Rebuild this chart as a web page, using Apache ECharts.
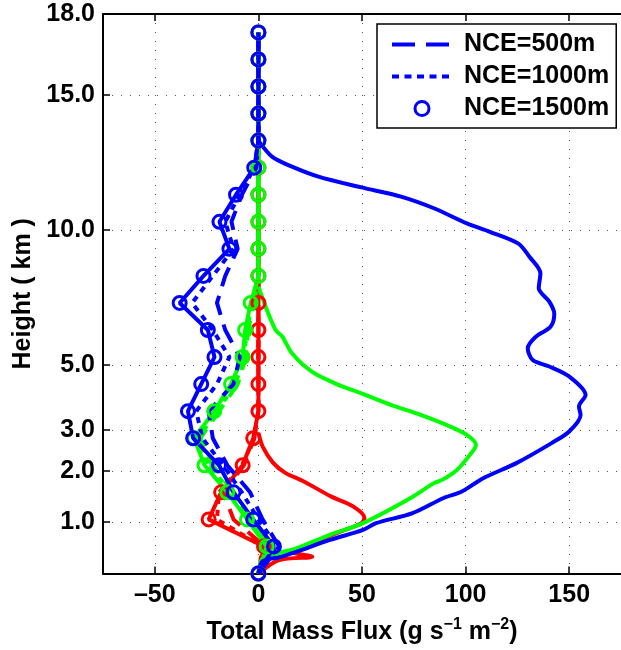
<!DOCTYPE html>
<html><head><meta charset="utf-8">
<script src="https://cdn.jsdelivr.net/npm/echarts@6/dist/echarts.min.js"></script>
<style>html,body{margin:0;padding:0;background:#fff}#c{width:621px;height:650px}</style>
</head><body><div id="c"></div>
<script>
// y axis is in model-level units; tick labels give the height (km)
const levels = [0,1,2,3,4,5,6,7,8,9,10,11,12,13,14,15,16,17,18,19,20];
const yTickPos = [1.90, 3.79, 5.30, 7.71, 12.70, 17.69, 20.68];
const yTickLabels = ['1.0','2.0','3.0','5.0','10.0','15.0','18.0'];
const xTicks = [-50, 0, 50, 100, 150];

// negative (downward) branches, one value per model level
const blue500  = [0, 10, 2, -4, -15, -22, -24, -12, -9, -16, -20, -16, -10, -13, -8, -1, 0, 0, 0, 0, 0];
const blue1000 = [0, 9, 0, -8, -17, -27, -30, -20, -14, -22, -32, -22, -12, -16, -9, -2, 0, 0, 0, 0, 0];
const blue1500 = [0, 7.5, -2.5, -12, -19, -31.5, -34, -27.6, -21.2, -24.4, -38, -26.5, -14, -18.8, -10.8, -2, 0, 0, 0, 0, 0];
const green500  = [0, 6, -3, -12, -22, -28, -19, -10, -6, -5, -2, 0, 0, 0, 0, 0, 0, 0, 0, 0, 0];
const green1000 = [0, 5, -4, -13, -24, -29, -20, -11, -7, -5.5, -3, 0, 0, 0, 0, 0, 0, 0, 0, 0, 0];
const green1500 = [0, 4, -5.5, -15, -26, -31, -21.3, -13.2, -7.6, -6.4, -3.7, 0, 0, 0, 0, 0, 0, 0, 0, 0, 0];
const red500  = [0, 3, -12, -17, -7, -2, 0, 0, 0, 0, 0, 0, 0, 0, 0, 0, 0, 0, 0, 0, 0];
const red1000 = [0, 2, -20, -19, -8, -2, 0, 0, 0, 0, 0, 0, 0, 0, 0, 0, 0, 0, 0, 0, 0];
const red1500 = [0, 2.7, -24, -18, -7.6, -2.5, 0, 0, 0, 0, 0, 0, 0, 0, 0, 0, 0, 0, 0, 0, 0];

// positive (upward) branches
const bluePosLevel = [16.0, 15.4, 15.04, 14.67, 14.27, 13.93, 13.5, 12.94, 12.63, 12.2, 11.71, 11.1, 10.54, 10.05, 9.6, 9.12, 8.76, 8.33, 7.89, 7.65, 7.28, 6.6, 6.17, 5.86, 5.25, 4.82, 4.08, 3.52, 3.03, 2.79, 2.23, 1.86, 1.61, 1.24, 0.81, 0.69, 0.6, 0.45, 0];
const bluePosFlux  = [0, 6.7, 16.2, 29, 49.7, 68.8, 84.7, 100.6, 111.7, 125.3, 130.8, 136.1, 135.3, 140.4, 142.8, 141, 134, 130, 132.4, 140.4, 150, 157.9, 154.7, 155.5, 150, 141.5, 124.5, 108.5, 98.2, 89.4, 74.4, 56.8, 50.5, 34.5, 18.6, 13.8, 10, 2, 0];
const greenPosLevel = [10.6, 9.86, 9.0, 8.76, 8.14, 7.46, 7.03, 6.66, 6.23, 5.86, 5.43, 5.12, 4.75, 4.32, 3.83, 3.46, 3.34, 2.79, 1.86, 1.43, 0.94, 0.72, 0.55, 0];
const greenPosFlux  = [0, 3.5, 8.3, 11.5, 16.2, 25.8, 36.9, 49.7, 64, 78.3, 92.6, 100.6, 105, 101.4, 95.8, 88.7, 84.7, 73.5, 50.5, 34.5, 18.6, 8, 2, 0];
const redPosLevel = [5.2, 4.7, 4.1, 3.72, 3.42, 2.85, 2.48, 2.05, 1.86, 1.49, 1.0, 0.8, 0.62, 0.5, 0];
const redPosFlux  = [0, 2, 7, 13, 21.5, 35, 45.7, 51.2, 49.7, 37.7, 21.8, 16, 26, 10, 0];

const FONT = '"Liberation Sans", Arial, Helvetica, sans-serif';
const BLUE = '#0000ff', GREEN = '#00ff00', RED = '#ff0000';
const DASH = [20, 10], DOT = [6, 6];

function pts(xs, ys) { return xs.map((x, i) => [x, ys[i]]); }
function posS(name, color, xs, ys) {
  return { name, type: 'line', data: pts(xs, ys), symbol: 'none', silent: true, smooth: 0.3,
    itemStyle: { color }, lineStyle: { color, width: 4 } };
}
function lineS(name, color, xs, type) {
  return { name, type: 'line', data: pts(xs, levels), symbol: 'none', silent: true,
    itemStyle: { color }, lineStyle: { color, width: 4, type } };
}
function circS(name, color, xs) {
  return { name, type: 'line', data: pts(xs, levels), symbol: 'circle', symbolSize: 13,
    showAllSymbol: true, silent: true,
    itemStyle: { color: 'rgba(0,0,0,0)', borderColor: color, borderWidth: 3 },
    lineStyle: { color, width: 4 } };
}

const series = [
  posS('redPos', RED, redPosFlux, redPosLevel),
  lineS('red500', RED, red500, DASH),
  lineS('red1000', RED, red1000, DOT),
  circS('red1500', RED, red1500),
  posS('greenPos', GREEN, greenPosFlux, greenPosLevel),
  lineS('green500', GREEN, green500, DASH),
  lineS('green1000', GREEN, green1000, DOT),
  circS('green1500', GREEN, green1500),
  posS('bluePos', BLUE, bluePosFlux, bluePosLevel),
  lineS('NCE=500m', BLUE, blue500, DASH),
  lineS('NCE=1000m', BLUE, blue1000, DOT),
  circS('NCE=1500m', BLUE, blue1500)
];

const labelStyle = { fontSize: 25, fontWeight: 'bold', color: '#000', fontFamily: FONT };
const gridLine = { show: true, lineStyle: { color: '#555', width: 1, type: [1, 8] } };
const hiddenSym = { color: 'rgba(0,0,0,0)', borderWidth: 0, opacity: 0 };

const chart = echarts.init(document.getElementById('c'), null, { renderer: 'canvas' });
chart.setOption({
  animation: false,
  backgroundColor: '#fff',
  grid: { left: 103, right: -6, top: 14, bottom: 76 },
  legend: {
    orient: 'vertical', left: 377, top: 24, align: 'left',
    backgroundColor: '#fff', borderColor: '#000', borderWidth: 1.5, borderRadius: 0,
    padding: [8, 7, 7, 13], itemWidth: 60, itemHeight: 14, itemGap: 7,
    textStyle: Object.assign({ padding: [0, 0, 0, 7] }, labelStyle),
    data: [
      { name: 'NCE=500m', itemStyle: hiddenSym,
        lineStyle: { color: BLUE, width: 4, type: [23, 11] } },
      { name: 'NCE=1000m', itemStyle: hiddenSym,
        lineStyle: { color: BLUE, width: 4, type: [7, 5.5] } },
      { name: 'NCE=1500m', icon: 'circle',
        itemStyle: { color: '#fff', borderColor: BLUE, borderWidth: 3 } }
    ],
    selectedMode: false
  },
  xAxis: [{
    type: 'value', position: 'bottom', min: -75, max: 175,
    axisLine: { show: true, onZero: false, lineStyle: { color: '#000', width: 2 } },
    axisTick: { show: true, inside: true, length: 7, customValues: xTicks, lineStyle: { color: '#000', width: 1.5 } },
    axisLabel: Object.assign({ customValues: xTicks, margin: 9,
      formatter: v => v < 0 ? '\u2013' + Math.abs(v) : String(v) }, labelStyle),
    splitLine: gridLine,
    name: '{m|Total Mass Flux (g s}{s|\u22121}{m| m}{s|\u22122}{m|)}',
    nameLocation: 'middle', nameGap: 43,
    nameTextStyle: {
      rich: {
        m: { fontSize: 25, fontWeight: 'bold', color: '#000', fontFamily: FONT, lineHeight: 32 },
        s: { fontSize: 16, fontWeight: 'bold', color: '#000', fontFamily: FONT, lineHeight: 16, verticalAlign: 'top' }
      }
    }
  }, {
    type: 'value', position: 'top', min: -75, max: 175,
    axisLine: { show: true, onZero: false, lineStyle: { color: '#000', width: 2 } },
    axisTick: { show: true, inside: true, length: 7, customValues: xTicks, lineStyle: { color: '#000', width: 1.5 } },
    axisLabel: { show: false },
    splitLine: { show: false }
  }],
  yAxis: {
    type: 'value', min: 0, max: 20.68,
    axisLine: { show: true, onZero: false, lineStyle: { color: '#000', width: 2 } },
    axisTick: { show: true, inside: true, length: 7, customValues: yTickPos, lineStyle: { color: '#000', width: 1.5 } },
    axisLabel: Object.assign({ customValues: yTickPos, margin: 8,
      formatter: v => { const i = yTickPos.findIndex(p => Math.abs(p - v) < 1e-6); return i >= 0 ? yTickLabels[i] : ''; } }, labelStyle),
    splitLine: gridLine,
    name: 'Height ( km )', nameLocation: 'middle', nameGap: 67,
    nameTextStyle: labelStyle
  },
  series
});
</script>
</body></html>
